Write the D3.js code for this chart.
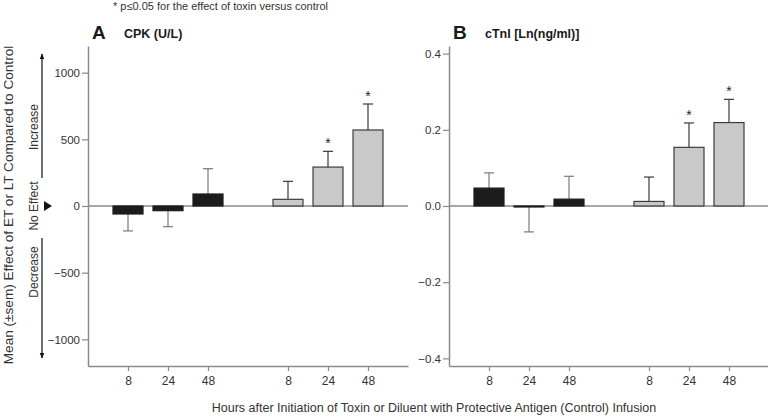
<!DOCTYPE html>
<html><head><meta charset="utf-8">
<script src="https://cdn.jsdelivr.net/npm/d3@7"></script>
<style>body{margin:0;background:#fff}svg{display:block;font-family:"Liberation Sans",Arial,sans-serif}</style>
</head><body>
<svg id="c" width="768" height="416"></svg>
<script>
const hours = ["8","24","48","8","24","48"];
const groups = ["ET","ET","ET","LT","LT","LT"];
const slots = [1,2,3,5,6,7];
const cpkValues = [-60,-35,90,50,292,570];
const cpkSem = [127,120,190,135,118,195];
const cpkSig = [false,false,false,false,true,true];
const ctniValues = [0.047,-0.002,0.018,0.012,0.154,0.219];
const ctniSem = [0.040,0.066,0.060,0.064,0.064,0.061];
const ctniSig = [false,false,false,false,true,true];
const cpkTicks = [-1000,-500,0,500,1000];
const ctniTicks = [-0.4,-0.2,0,0.2,0.4];

const svg = d3.select("#c");
const axisCol = "#8a8a8a", textCol = "#333";

function panel(opts){
  const g = svg.append("g");
  const x = d3.scaleLinear().domain([0,8]).range([opts.x0, opts.x0+320]);
  const y = d3.scaleLinear().domain(opts.domain).range([366,46]);
  const bw = 30;
  const ya = g.append("g").attr("transform",`translate(${opts.x0},0)`)
    .call(d3.axisLeft(y).tickValues(opts.ticks).tickFormat(opts.fmt).tickSize(6).tickSizeOuter(0));
  ya.select(".domain").attr("stroke",axisCol).attr("stroke-width",1.5);
  ya.selectAll(".tick line").attr("stroke",axisCol).attr("stroke-width",1.2);
  ya.selectAll(".tick text").attr("fill",textCol).attr("font-size",11.5).attr("x",-8)
    .attr("font-family","Liberation Sans, Arial, sans-serif");
  const xa = g.append("g").attr("transform","translate(0,366)")
    .call(d3.axisBottom(x).tickValues(slots).tickFormat((d,i)=>hours[i]).tickSize(5).tickSizeOuter(0));
  xa.select(".domain").attr("stroke",axisCol).attr("stroke-width",1.5);
  xa.selectAll(".tick line").attr("stroke",axisCol).attr("stroke-width",1.2);
  xa.selectAll(".tick text").attr("fill",textCol).attr("font-size",12).attr("y",10)
    .attr("font-family","Liberation Sans, Arial, sans-serif");
  g.append("line").attr("x1",x(0)).attr("x2",x(8)).attr("y1",y(0)).attr("y2",y(0))
    .attr("stroke",axisCol).attr("stroke-width",1.5);
  const eb = g.selectAll(".eb").data(opts.values).enter().append("g");
  eb.each(function(v,i){
    const s = opts.sem[i];
    const end = v >= 0 ? v + s : v - s;
    const col = groups[i]==="ET" ? "#7a7a7a" : "#3a3a3a";
    const gg = d3.select(this);
    gg.append("line").attr("x1",x(slots[i])).attr("x2",x(slots[i])).attr("y1",y(v)).attr("y2",y(end))
      .attr("stroke",col).attr("stroke-width",1.2);
    gg.append("line").attr("x1",x(slots[i])-5).attr("x2",x(slots[i])+5).attr("y1",y(end)).attr("y2",y(end))
      .attr("stroke",col).attr("stroke-width",1.2);
  });
  g.selectAll(".bar").data(opts.values).enter().append("rect")
    .attr("x",(d,i)=>x(slots[i])-bw/2).attr("width",bw)
    .attr("y",d=>y(Math.max(0,d))).attr("height",d=>Math.max(1,Math.abs(y(d)-y(0))))
    .attr("fill",(d,i)=>groups[i]==="ET"?"#1c1c1c":"#c9c9c9")
    .attr("stroke",(d,i)=>groups[i]==="ET"?"#1c1c1c":"#3c3c3c").attr("stroke-width",1.2);
  opts.values.forEach((d,i)=>{
    if(!opts.sig[i]) return;
    g.append("text").attr("x",x(slots[i])).attr("y",y(d+opts.sem[i])-3)
      .attr("text-anchor","middle").attr("font-size",14).attr("fill","#222").text("*");
  });
  g.append("text").attr("x",opts.x0+4).attr("y",39).attr("font-size",19).attr("font-weight","bold")
    .attr("fill","#1a1a1a").text(opts.letter);
  g.append("text").attr("x",opts.x0+36).attr("y",38).attr("font-size",12.5).attr("font-weight","bold")
    .attr("fill","#1a1a1a").text(opts.title);
}

panel({x0:88, domain:[-1200,1200], ticks:cpkTicks, fmt:d3.format("d"), values:cpkValues, sem:cpkSem, sig:cpkSig, letter:"A", title:"CPK (U/L)"});
panel({x0:449, domain:[-0.42,0.42], ticks:ctniTicks, fmt:d3.format(".1f"), values:ctniValues, sem:ctniSem, sig:ctniSig, letter:"B", title:"cTnI [Ln(ng/ml)]"});

svg.append("text").attr("x",113).attr("y",10).attr("font-size",11).attr("fill",textCol)
  .text("* p≤0.05 for the effect of toxin versus control");
svg.append("text").attr("x",434).attr("y",412).attr("text-anchor","middle").attr("font-size",12.5).attr("fill",textCol)
  .text("Hours after Initiation of Toxin or Diluent with Protective Antigen (Control) Infusion");
svg.append("text").attr("transform","translate(13,205) rotate(-90)").attr("text-anchor","middle")
  .attr("font-size",13.6).attr("fill",textCol).text("Mean (±sem) Effect of ET or LT Compared to Control");

const defs = svg.append("defs");
defs.append("marker").attr("id","ah").attr("viewBox","0 0 10 10").attr("refX",9).attr("refY",5)
  .attr("markerWidth",6).attr("markerHeight",7).attr("markerUnits","userSpaceOnUse").attr("orient","auto")
  .append("path").attr("d","M0,1 L10,5 L0,9 Z").attr("fill","#111");
svg.append("line").attr("x1",42).attr("x2",42).attr("y1",178).attr("y2",54).attr("stroke","#111").attr("stroke-width",1.2).attr("marker-end","url(#ah)");
svg.append("line").attr("x1",42).attr("x2",42).attr("y1",238).attr("y2",358).attr("stroke","#111").attr("stroke-width",1.2).attr("marker-end","url(#ah)");
svg.append("path").attr("d","M44,201 L52,206 L44,211 Z").attr("fill","#111");
const side = [["Increase",127],["No Effect",206],["Decrease",272]];
side.forEach(([t,cy])=>{
  svg.append("text").attr("transform",`translate(38,${cy}) rotate(-90)`).attr("text-anchor","middle")
    .attr("font-size",12).attr("fill",textCol).text(t);
});
</script>
</body></html>
